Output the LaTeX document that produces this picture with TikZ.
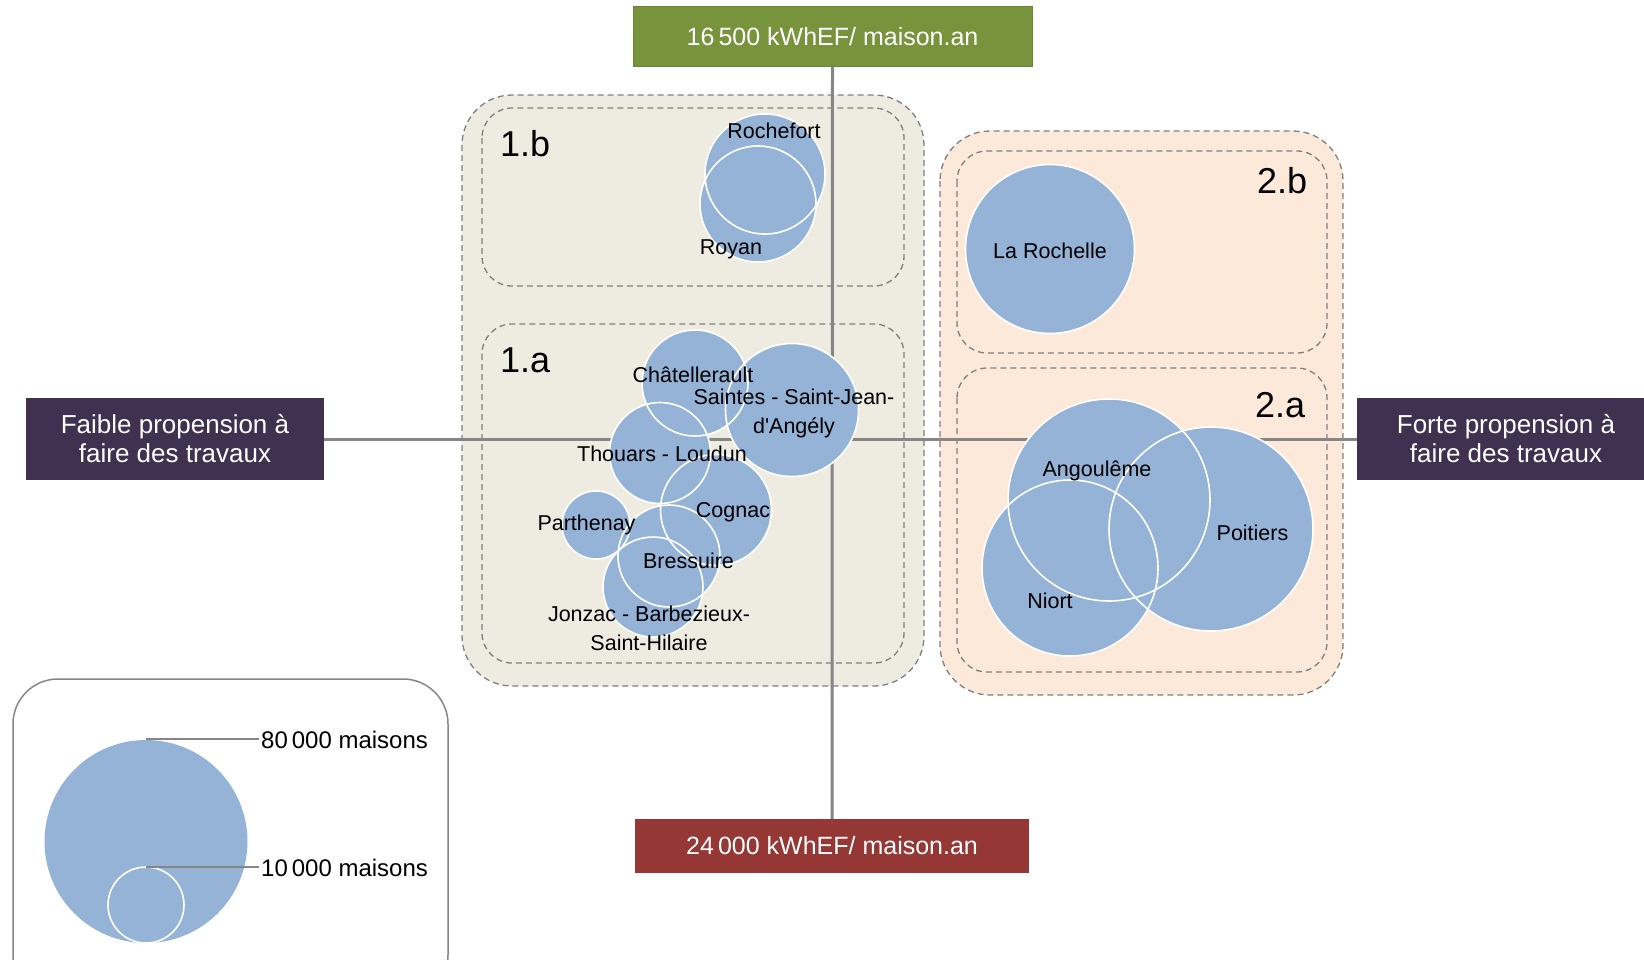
\documentclass[tikz,border=0pt]{standalone}
\usepackage{fontspec}
\setmainfont{Liberation Sans}
\usetikzlibrary{backgrounds}
\usepackage{xcolor}
\definecolor{bleuville}{HTML}{95B3D7}
\definecolor{beige}{HTML}{EEECE1}
\definecolor{peche}{HTML}{FDE9D9}
\definecolor{prune}{HTML}{403151}
\definecolor{vertfort}{HTML}{77933C}
\definecolor{vertbord}{HTML}{6A8535}
\definecolor{brique}{HTML}{953735}
\definecolor{trait}{HTML}{868686}
\definecolor{tirets}{HTML}{7F7F7F}
\tikzset{
	groupe/.style={draw=tirets, dash pattern=on 6pt off 4pt, line width=1.3pt, rounded corners=50pt},
	sousgroupe/.style={draw=tirets, dash pattern=on 6pt off 4pt, line width=1.3pt, rounded corners=30pt},
	ville/.style={fill=bleuville},
	contour/.style={draw=white, line width=1.6pt},
	nomville/.style={anchor=base, inner sep=0pt, align=center, font=\fontsize{21.5}{28.5}\selectfont},
	numero/.style={anchor=base west, inner sep=0pt, font=\fontsize{36}{40}\selectfont},
	boite/.style={text=white, inner sep=0pt, align=center, font=\fontsize{26}{29}\selectfont},
	axe/.style={draw=trait, line width=3pt},
	legende/.style={anchor=base west, inner sep=2pt, font=\fontsize{24}{28}\selectfont}
}

\begin{document}
\begin{tikzpicture}[x=1pt,y=-1pt]
	\useasboundingbox (0,0) rectangle (1644,959);
	%groupes 1 et 2
	\draw[groupe, fill=beige] (462,95) rectangle (924,686);
	\draw[sousgroupe] (482,108) rectangle (904,286);
	\draw[sousgroupe] (482,324) rectangle (904,663);
	\draw[groupe, fill=peche] (940,131) rectangle (1343,695);
	\draw[sousgroupe] (957,151) rectangle (1327,353);
	\draw[sousgroupe] (957,368) rectangle (1327,672);
	\node[numero] (n1b) at (500,156) {1.b};
	\node[numero] (n1a) at (500,372) {1.a};
	\node[numero] (n2b) at (1257,193) {2.b};
	\node[numero] (n2a) at (1255,417) {2.a};
	%etiquettes des axes
	\node[boite, fill=vertfort, draw=vertbord, line width=1pt, minimum width=399pt, minimum height=60pt] (haut) at (832.5,36.5) {\fontsize{25}{29}\selectfont 16\,500 kWhEF/ maison.an};
	\node[boite, fill=brique, minimum width=394pt, minimum height=54pt] (bas) at (832,846) {\fontsize{25}{29}\selectfont 24\,000 kWhEF/ maison.an};
	\node[boite, fill=prune, minimum width=298pt, minimum height=82pt] (faible) at (175,439) {Faible propension à\\faire des travaux};
	\node[boite, fill=prune, minimum width=298pt, minimum height=82pt] (forte) at (1506,439) {Forte propension à\\faire des travaux};
	%axes
	\draw[axe] (faible.east) -- (forte.west);
	\draw[axe] (haut.south) -- (bas.north);
	%cercles
	\fill[ville] (765,174) circle (60pt);
	\fill[ville] (758,204) circle (58pt);
	\fill[ville] (695,383) circle (53pt);
	\fill[ville] (792,410) circle (66.5pt);
	\fill[ville] (660,453) circle (50.5pt);
	\fill[ville] (716,510) circle (55.5pt);
	\fill[ville] (596,525) circle (34pt);
	\fill[ville] (669,556) circle (51pt);
	\fill[ville] (653,587) circle (50pt);
	\fill[ville] (1050,249) circle (84.5pt);
	\fill[ville] (1109,500) circle (101pt);
	\fill[ville] (1211,529) circle (102pt);
	\fill[ville] (1070,568) circle (88pt);
	%contours blancs
	\draw[contour] (765,174) circle (60pt);
	\draw[contour] (758,204) circle (58pt);
	\draw[contour] (695,383) circle (53pt);
	\draw[contour] (792,410) circle (66.5pt);
	\draw[contour] (660,453) circle (50.5pt);
	\draw[contour] (716,510) circle (55.5pt);
	\draw[contour] (596,525) circle (34pt);
	\draw[contour] (669,556) circle (51pt);
	\draw[contour] (653,587) circle (50pt);
	\draw[contour] (1050,249) circle (84.5pt);
	\draw[contour] (1109,500) circle (101pt);
	\draw[contour] (1211,529) circle (102pt);
	\draw[contour] (1070,568) circle (88pt);
	%noms des villes (base = derniere ligne)
	\node[nomville] (rochefort) at (774,138.5) {Rochefort};
	\node[nomville] (royan) at (731,254.5) {Royan};
	\node[nomville] (chatellerault) at (693,382) {Châtellerault};
	\node[nomville] (saintes) at (794,433) {Saintes - Saint-Jean-\\d\textquotesingle Angély};
	\node[nomville] (thouars) at (662,461) {Thouars - Loudun};
	\node[nomville] (cognac) at (733,517.5) {Cognac};
	\node[nomville] (parthenay) at (586.5,530.5) {Parthenay};
	\node[nomville] (bressuire) at (688.5,568) {Bressuire};
	\node[nomville] (jonzac) at (649,650) {Jonzac - Barbezieux-\\Saint-Hilaire};
	\node[nomville] (larochelle) at (1050,258) {La Rochelle};
	\node[nomville] (angouleme) at (1097,476) {Angoulême};
	\node[nomville] (poitiers) at (1252.5,540) {Poitiers};
	\node[nomville] (niort) at (1050,608) {Niort};
	%legende
	\draw[draw=trait, line width=1.5pt, rounded corners=45pt] (13,679) rectangle (448,1000);
	\fill[ville] (146,841.5) circle (101.5pt);
	\draw[contour] (146,905) circle (38pt);
	\coordinate (sommetgrand) at (146,739);
	\coordinate (sommetpetit) at (146,867);
	\node[legende] (l80) at (259,748) {80\,000 maisons};
	\node[legende] (l10) at (259,876.5) {10\,000 maisons};
	\draw[draw=trait, line width=2pt] (sommetgrand) -- (sommetgrand -| l80.west);
	\draw[draw=trait, line width=2pt] (sommetpetit) -- (sommetpetit -| l10.west);
\end{tikzpicture}
\end{document}
